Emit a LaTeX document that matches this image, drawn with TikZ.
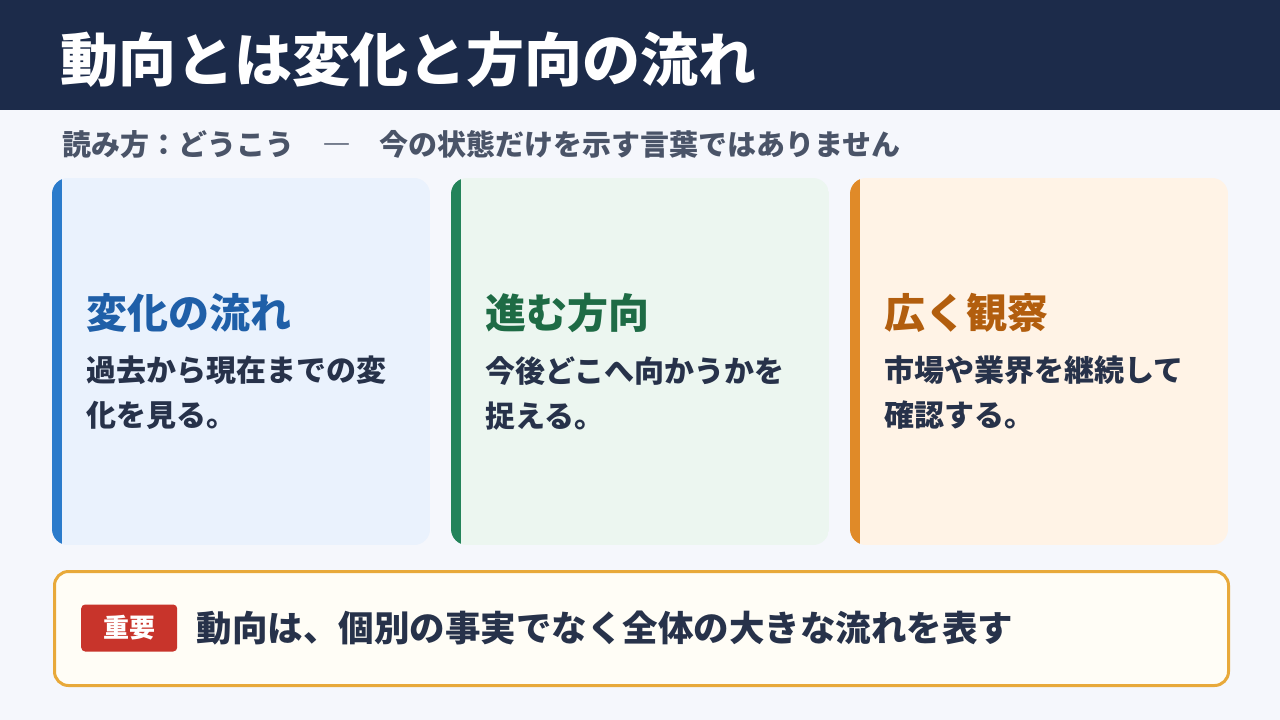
\documentclass[tikz,border=0pt]{standalone}
\usepackage{fontspec}
\setmainfont{Noto Sans CJK JP}
\usetikzlibrary{positioning}
\definecolor{navy}{HTML}{1C2B4A}
\definecolor{pagebg}{HTML}{F5F7FC}
\definecolor{subgray}{HTML}{4A5468}
\definecolor{bodyink}{HTML}{27324A}
\definecolor{blueA}{HTML}{2B7BCB}\definecolor{blueF}{HTML}{EAF2FD}\definecolor{blueT}{HTML}{1F5FA8}
\definecolor{greenA}{HTML}{23835A}\definecolor{greenF}{HTML}{ECF6F0}\definecolor{greenT}{HTML}{1E6B45}
\definecolor{orangeA}{HTML}{E08A28}\definecolor{orangeF}{HTML}{FFF3E6}\definecolor{orangeT}{HTML}{B25E0E}
\definecolor{noteline}{HTML}{E8A93A}\definecolor{notefill}{HTML}{FFFDF6}\definecolor{badge}{HTML}{C8342B}
\tikzset{
  card/.style={rounded corners=16pt, minimum width=378pt, minimum height=367pt, anchor=north west, inner sep=0pt},
  head/.style={anchor=west, font=\fontsize{41}{46}\selectfont\bfseries, inner sep=0pt},
  body/.style={anchor=north west, align=left, font=\fontsize{30}{45}\selectfont\bfseries, text=bodyink, inner sep=0pt}
}
\begin{document}
\begin{tikzpicture}[x=1pt, y=-1pt]
\fill[pagebg] (0,0) rectangle (1280,720);
\useasboundingbox (0,0) rectangle (1280,720);
% Title bar
\fill[navy] (0,0) rectangle (1280,110);
\node[anchor=west, text=white, font=\fontsize{58}{64}\selectfont\bfseries, inner sep=0pt] (title) at (60,60) {動向とは変化と方向の流れ};
\node[anchor=west, text=subgray, font=\fontsize{29}{34}\selectfont\bfseries, inner sep=0pt] (sub) at (62,144) {読み方：どうこう\hspace{28pt}―\hspace{28pt}今の状態だけを示す言葉ではありません};
% Cards
\foreach \x/\c/\h/\t [count=\i] in {
  52/blue/変化の流れ/過去から現在までの変\\化を見る。,
  451/green/進む方向/今後どこへ向かうかを\\捉える。,
  850/orange/広く観察/市場や業界を継続して\\確認する。} {
  \begin{scope}
    \clip[rounded corners=16pt] (\x,178) rectangle ++(378,367);
    \fill[\c F] (\x,178) rectangle ++(378,367);
    \fill[\c A] (\x,178) rectangle ++(10,367);
  \end{scope}
  \node[head, text=\c T] (head\i) at (\x+34,313) {\h};
  \node[body] (body\i) at (\x+34,356) {\t};
}
% Key point
\node[draw=noteline, line width=3pt, fill=notefill, rounded corners=14pt, minimum width=1174pt, minimum height=114pt, anchor=north west, inner sep=0pt] (note) at (53,570) {};
\node[fill=badge, rounded corners=4pt, text=white, font=\fontsize{26}{30}\selectfont\bfseries, minimum width=96pt, minimum height=47pt, inner sep=0pt, anchor=west] (key) at (81,628) {重要};
\node[anchor=west, text=bodyink, font=\fontsize{35.5}{40}\selectfont\bfseries, inner sep=0pt, right=19pt of key] (keytext) {動向は、個別の事実でなく全体の大きな流れを表す};
\end{tikzpicture}
\end{document}
